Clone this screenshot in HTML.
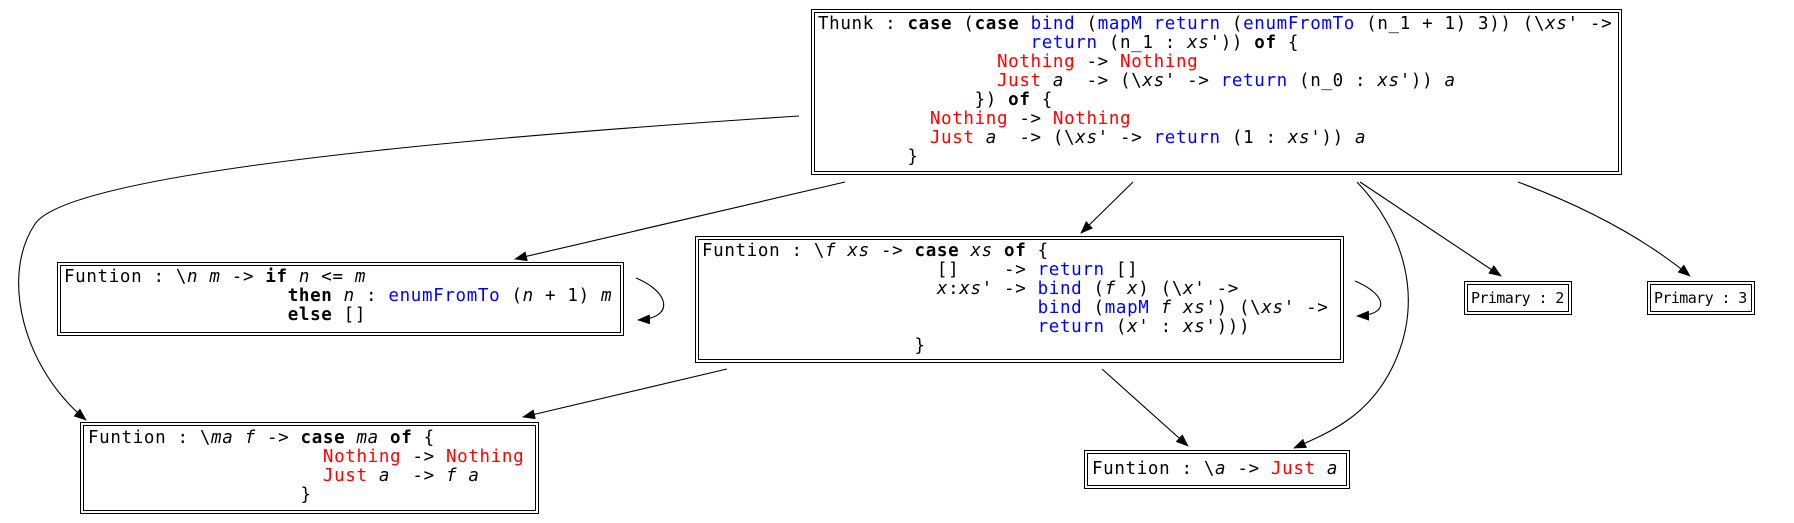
<!DOCTYPE html>
<html><head><meta charset="utf-8"><style>
body{margin:0;width:1794px;height:523px;background:#fff;position:relative;overflow:hidden}
.n{position:absolute;border:1.3px solid #000;padding:2px;box-sizing:border-box;background:#fff}
.n>div{border:1.3px solid #000;width:100%;height:100%;box-sizing:border-box}
pre{margin:0;position:absolute;font-family:"DejaVu Sans Mono","Liberation Mono",monospace;font-size:17.5px;line-height:19px;letter-spacing:0.65px;color:#000}
pre.s{font-size:15px;letter-spacing:-0.6px}
b{font-weight:bold}.bl{color:#0000ff}.r{color:#ff0000}i{font-style:italic}
svg{position:absolute;left:0;top:0}
</style></head><body>
<svg width="1794" height="523">
<defs><marker id="a" markerWidth="13" markerHeight="10" refX="12" refY="5" orient="auto" markerUnits="userSpaceOnUse"><path d="M0,0 L13,5 L0,10z" fill="#000"/></marker></defs>
<g fill="none" stroke="#000" stroke-width="1.1" marker-end="url(#a)">
<path d="M799,116 C460,138 69,173 35,224 C0,276 23,368 86,420"/>
<path d="M845,182 L515,259"/>
<path d="M1133,182 L1081,233"/>
<path d="M1357,182 C1403,230 1426,299 1392,368 C1369,414 1334,431 1294,448"/>
<path d="M1360,182 L1501,276"/>
<path d="M1518,182 C1580,205 1640,235 1690,276"/>
<path d="M636,278 C670,292 675,318 638,320"/>
<path d="M1355,281 C1388,295 1390,315 1357,316"/>
<path d="M727,369 L523,417"/>
<path d="M1102,369 L1188,446"/>
</g></svg>
<div class="n" style="left:811px;top:9px;width:811px;height:166px"><div></div></div>
<pre style="left:818px;top:15px">Thunk : <b>case</b> (<b>case</b> <span class="bl">bind</span> (<span class="bl">mapM</span> <span class="bl">return</span> (<span class="bl">enumFromTo</span> (n_1 + 1) 3)) (\<i>xs</i>' ->
                   <span class="bl">return</span> (n_1 : <i>xs</i>')) <b>of</b> {
                <span class="r">Nothing</span> -> <span class="r">Nothing</span>
                <span class="r">Just</span> <i>a</i>  -> (\<i>xs</i>' -> <span class="bl">return</span> (n_0 : <i>xs</i>')) <i>a</i>
              }) <b>of</b> {
          <span class="r">Nothing</span> -> <span class="r">Nothing</span>
          <span class="r">Just</span> <i>a</i>  -> (\<i>xs</i>' -> <span class="bl">return</span> (1 : <i>xs</i>')) <i>a</i>
        }</pre>
<div class="n" style="left:57px;top:262px;width:567px;height:74px"><div></div></div>
<pre style="left:64px;top:268px">Funtion : \<i>n</i> <i>m</i> -> <b>if</b> <i>n</i> &lt;= <i>m</i>
                    <b>then</b> <i>n</i> : <span class="bl">enumFromTo</span> (<i>n</i> + 1) <i>m</i>
                    <b>else</b> []</pre>
<div class="n" style="left:695px;top:236px;width:649px;height:127px"><div></div></div>
<pre style="left:702px;top:242px">Funtion : \<i>f</i> <i>xs</i> -> <b>case</b> <i>xs</i> <b>of</b> {
                     []    -> <span class="bl">return</span> []
                     <i>x</i>:<i>xs</i>' -> <span class="bl">bind</span> (<i>f</i> <i>x</i>) (\<i>x</i>' ->
                              <span class="bl">bind</span> (<span class="bl">mapM</span> <i>f</i> <i>xs</i>') (\<i>xs</i>' ->
                              <span class="bl">return</span> (<i>x</i>' : <i>xs</i>')))
                   }</pre>
<div class="n" style="left:1464px;top:281px;width:108px;height:34px"><div></div></div>
<pre class="s" style="left:1471px;top:289px">Primary : 2</pre>
<div class="n" style="left:1647px;top:281px;width:108px;height:34px"><div></div></div>
<pre class="s" style="left:1654px;top:289px">Primary : 3</pre>
<div class="n" style="left:80px;top:422px;width:459px;height:92px"><div></div></div>
<pre style="left:88px;top:429px">Funtion : \<i>ma</i> <i>f</i> -> <b>case</b> <i>ma</i> <b>of</b> {
                     <span class="r">Nothing</span> -> <span class="r">Nothing</span>
                     <span class="r">Just</span> <i>a</i>  -> <i>f</i> <i>a</i>
                   }</pre>
<div class="n" style="left:1084px;top:450px;width:266px;height:39px"><div></div></div>
<pre style="left:1092px;top:460px">Funtion : \<i>a</i> -> <span class="r">Just</span> <i>a</i></pre>
</body></html>
